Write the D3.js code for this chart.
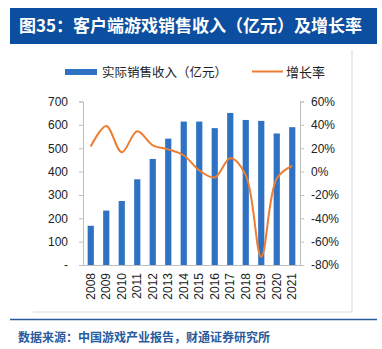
<!DOCTYPE html>
<html>
<head>
<meta charset="utf-8">
<script src="https://cdn.jsdelivr.net/npm/d3@7"></script>
<style>
  body { margin: 0; background: #fff; }
  svg text { font-family: "Liberation Sans", Arial, "Noto Sans CJK SC", sans-serif; }
  .cjk { font-family: "Noto Sans CJK SC", sans-serif; }
</style>
</head>
<body>
<div id="chart"></div>
<script>
// chart data
var years = ["2008","2009","2010","2011","2012","2013","2014","2015","2016","2017","2018","2019","2020","2021"];
var revenue = [168, 233, 274, 367, 454, 541, 614, 614, 586, 651, 621, 617, 563, 590];
var growth = [21.5, 39, 16.5, 34.5, 22.5, 19, 14, 1, -5, 11.5, -3, -73, -6, 5];
var leftTicks = [0, 100, 200, 300, 400, 500, 600, 700];
var rightTicks = [-80, -60, -40, -20, 0, 20, 40, 60];

var width = 382, height = 349;
var barColor = "#2f72c4", lineColor = "#ed7d31";

var svg = d3.select("#chart").append("svg")
    .attr("width", width)
    .attr("height", height);

// title bar
svg.append("rect")
    .attr("x", 10).attr("y", 8)
    .attr("width", 367).attr("height", 36)
    .attr("fill", "#0c4e9f");
svg.append("text")
    .attr("class", "cjk")
    .attr("x", 19).attr("y", 32)
    .attr("fill", "#fff")
    .attr("font-size", 17)
    .attr("font-weight", "bold")
    .text("图35：客户端游戏销售收入（亿元）及增长率");

// light frame edges
svg.append("path")
    .attr("d", "M33,312H352V50")
    .attr("fill", "none")
    .attr("stroke", "#d9d9d9")
    .attr("stroke-width", 1);

// bottom blue rule + source
svg.append("line")
    .attr("x1", 10).attr("x2", 377)
    .attr("y1", 319.5).attr("y2", 319.5)
    .attr("stroke", "#2a5b9c")
    .attr("stroke-width", 1.5);
svg.append("text")
    .attr("class", "cjk")
    .attr("x", 18).attr("y", 342)
    .attr("fill", "#2a5b9c")
    .attr("font-size", 12)
    .attr("font-weight", "bold")
    .text("数据来源：中国游戏产业报告，财通证券研究所");

// scales
var x = d3.scaleBand().domain(years).range([83, 300]).paddingInner(0.6).paddingOuter(0.3);
var yL = d3.scaleLinear().domain([0, 700]).range([265, 101.5]);
var yR = d3.scaleLinear().domain([-80, 60]).range([265, 101.5]);

// left axis
var leftAxis = d3.axisLeft(yL).tickValues(leftTicks).tickSize(4).tickPadding(11)
    .tickFormat(function(d) { return d === 0 ? "-" : d; });
var gL = svg.append("g").attr("transform", "translate(83,0)").call(leftAxis);
gL.select(".domain").attr("stroke", "#bfbfbf");
gL.selectAll(".tick line").attr("stroke", "#bfbfbf");
gL.selectAll(".tick text").attr("font-size", 12).attr("fill", "#222");

// right axis
var rightAxis = d3.axisRight(yR).tickValues(rightTicks).tickSize(4).tickPadding(7)
    .tickFormat(function(d) { return d + "%"; });
var gR = svg.append("g").attr("transform", "translate(300,0)").call(rightAxis);
gR.select(".domain").attr("stroke", "#bfbfbf");
gR.selectAll(".tick line").attr("stroke", "#bfbfbf");
gR.selectAll(".tick text").attr("font-size", 12).attr("fill", "#222");

// bars
svg.selectAll(".bar")
    .data(revenue)
    .enter()
    .append("rect")
    .attr("class", "bar")
    .attr("x", function(d, i) { return x(years[i]); })
    .attr("y", function(d) { return yL(d); })
    .attr("width", x.bandwidth())
    .attr("height", function(d) { return yL(0) - yL(d); })
    .attr("fill", barColor);

// bottom axis
var bottomAxis = d3.axisBottom(x).tickSize(0).tickPadding(0);
var gB = svg.append("g").attr("transform", "translate(0,265)").call(bottomAxis);
gB.select(".domain").attr("stroke", "#bfbfbf").attr("d", "M83,0.5H300");
gB.selectAll(".tick text")
    .attr("font-size", 12)
    .attr("fill", "#222")
    .attr("text-anchor", "end")
    .attr("dy", "0.35em")
    .attr("transform", "translate(0,8) rotate(-90)")
    .attr("x", 0).attr("y", 0);

// growth line
var line = d3.line()
    .x(function(d, i) { return x(years[i]) + x.bandwidth() / 2; })
    .y(function(d) { return yR(d); })
    .curve(d3.curveCatmullRom.alpha(0.5));
svg.append("path")
    .datum(growth)
    .attr("d", line)
    .attr("fill", "none")
    .attr("stroke", lineColor)
    .attr("stroke-width", 2);

// legend
svg.append("rect")
    .attr("x", 65).attr("y", 69)
    .attr("width", 32).attr("height", 6)
    .attr("fill", barColor);
svg.append("text")
    .attr("class", "cjk")
    .attr("x", 102).attr("y", 76.5)
    .attr("font-size", 12.5)
    .attr("fill", "#222")
    .text("实际销售收入（亿元）");
svg.append("line")
    .attr("x1", 252).attr("x2", 283)
    .attr("y1", 71.5).attr("y2", 71.5)
    .attr("stroke", lineColor)
    .attr("stroke-width", 2);
svg.append("text")
    .attr("class", "cjk")
    .attr("x", 286).attr("y", 76.5)
    .attr("font-size", 13)
    .attr("fill", "#222")
    .text("增长率");
</script>
</body>
</html>
